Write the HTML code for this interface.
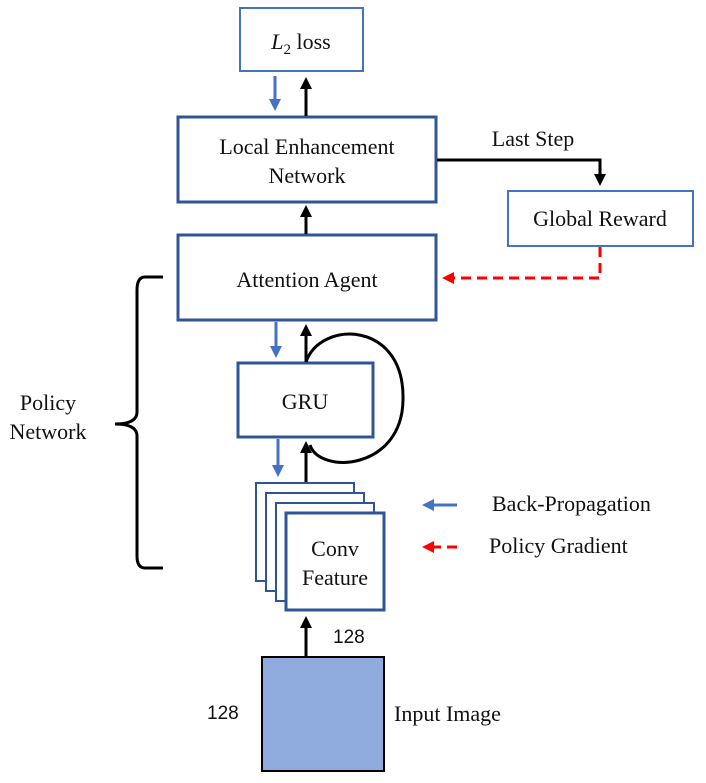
<!DOCTYPE html><html><head><style>body{margin:0;background:#fff}svg{display:block}text{font-family:"Liberation Serif",serif;fill:#111}</style></head><body>
<svg width="706" height="783" viewBox="0 0 706 783" xmlns="http://www.w3.org/2000/svg">
<defs>
<marker id="ak" markerWidth="4" markerHeight="4" refX="3" refY="2" orient="auto"><path d="M0,0L4,2L0,4z" fill="#000"/></marker>
<marker id="ab" markerWidth="4" markerHeight="4" refX="3" refY="2" orient="auto"><path d="M0,0L4,2L0,4z" fill="#4472c4"/></marker>
<marker id="ar" markerWidth="4" markerHeight="4" refX="3" refY="2" orient="auto"><path d="M0,0L4,2L0,4z" fill="#f00"/></marker>
</defs>
<g fill="#fff">
<rect x="240" y="8" width="123" height="63" stroke="#4472c4" stroke-width="2"/>
<rect x="178" y="117" width="258" height="85" stroke="#2f5597" stroke-width="3"/>
<rect x="508" y="191" width="185" height="55" stroke="#4472c4" stroke-width="2"/>
<rect x="178" y="235" width="258" height="85" stroke="#2f5597" stroke-width="3"/>
<rect x="238" y="363" width="135" height="74" stroke="#2f5597" stroke-width="3"/>
<rect x="256" y="483" width="98" height="98" stroke="#2f5597" stroke-width="2"/>
<rect x="266" y="493" width="98" height="98" stroke="#2f5597" stroke-width="2"/>
<rect x="276" y="503" width="98" height="98" stroke="#2f5597" stroke-width="2"/>
<rect x="286" y="513" width="98" height="97" stroke="#2f5597" stroke-width="3"/>
</g>
<rect x="262" y="657" width="122" height="114" fill="#8faadc" stroke="#000" stroke-width="2"/>
<g stroke="#000" stroke-width="3" fill="none">
<line x1="306" y1="116" x2="306" y2="80" marker-end="url(#ak)"/>
<line x1="306" y1="234" x2="306" y2="208" marker-end="url(#ak)"/>
<line x1="306" y1="362" x2="306" y2="327" marker-end="url(#ak)"/>
<line x1="306" y1="482" x2="306" y2="444" marker-end="url(#ak)"/>
<line x1="306" y1="656" x2="306" y2="619" marker-end="url(#ak)"/>
<polyline points="437,160 600,160 600,183" marker-end="url(#ak)"/>
<path d="M306,362 C320,320 405,320 403,400 C402,470 320,475 310,445"/>
<path d="M163,277 L145,277 Q137,277 137,290 L137,412 Q137,424 115,424 Q137,424 137,436 L137,556 Q137,568 145,568 L163,568"/>
</g>
<g stroke="#4472c4" stroke-width="3">
<line x1="275" y1="76" x2="275" y2="108" marker-end="url(#ab)"/>
<line x1="276" y1="322" x2="276" y2="355" marker-end="url(#ab)"/>
<line x1="278" y1="439" x2="278" y2="474" marker-end="url(#ab)"/>
<line x1="457" y1="505" x2="425" y2="505" marker-end="url(#ab)"/>
</g>
<g stroke="#f00" stroke-width="3" fill="none" stroke-dasharray="10,6">
<polyline points="600,247 600,278 445,278" marker-end="url(#ar)"/>
<line x1="457" y1="547" x2="425" y2="547" marker-end="url(#ar)"/>
</g>
<text x="301" y="49" font-size="22" text-anchor="middle"><tspan font-style="italic">L</tspan><tspan font-size="15" dy="5">2</tspan><tspan dy="-5"> loss</tspan></text>
<text x="307" y="154" font-size="22" text-anchor="middle">Local Enhancement</text>
<text x="307" y="183" font-size="22" text-anchor="middle">Network</text>
<text x="533" y="146" font-size="22" text-anchor="middle">Last Step</text>
<text x="600" y="226" font-size="22" text-anchor="middle">Global Reward</text>
<text x="307" y="287" font-size="22" text-anchor="middle">Attention Agent</text>
<text x="305" y="409" font-size="22" text-anchor="middle">GRU</text>
<text x="335" y="556" font-size="22" text-anchor="middle">Conv</text>
<text x="335" y="585" font-size="22" text-anchor="middle">Feature</text>
<text x="48" y="410" font-size="22" text-anchor="middle">Policy</text>
<text x="48" y="439" font-size="22" text-anchor="middle">Network</text>
<text x="492" y="511" font-size="22">Back-Propagation</text>
<text x="489" y="553" font-size="22">Policy Gradient</text>
<text x="394" y="721" font-size="22">Input Image</text>
<text x="333" y="643" font-size="19" style="font-family:'Liberation Sans',sans-serif">128</text><text x="207" y="719" font-size="19" style="font-family:'Liberation Sans',sans-serif">128</text>
</svg></body></html>
